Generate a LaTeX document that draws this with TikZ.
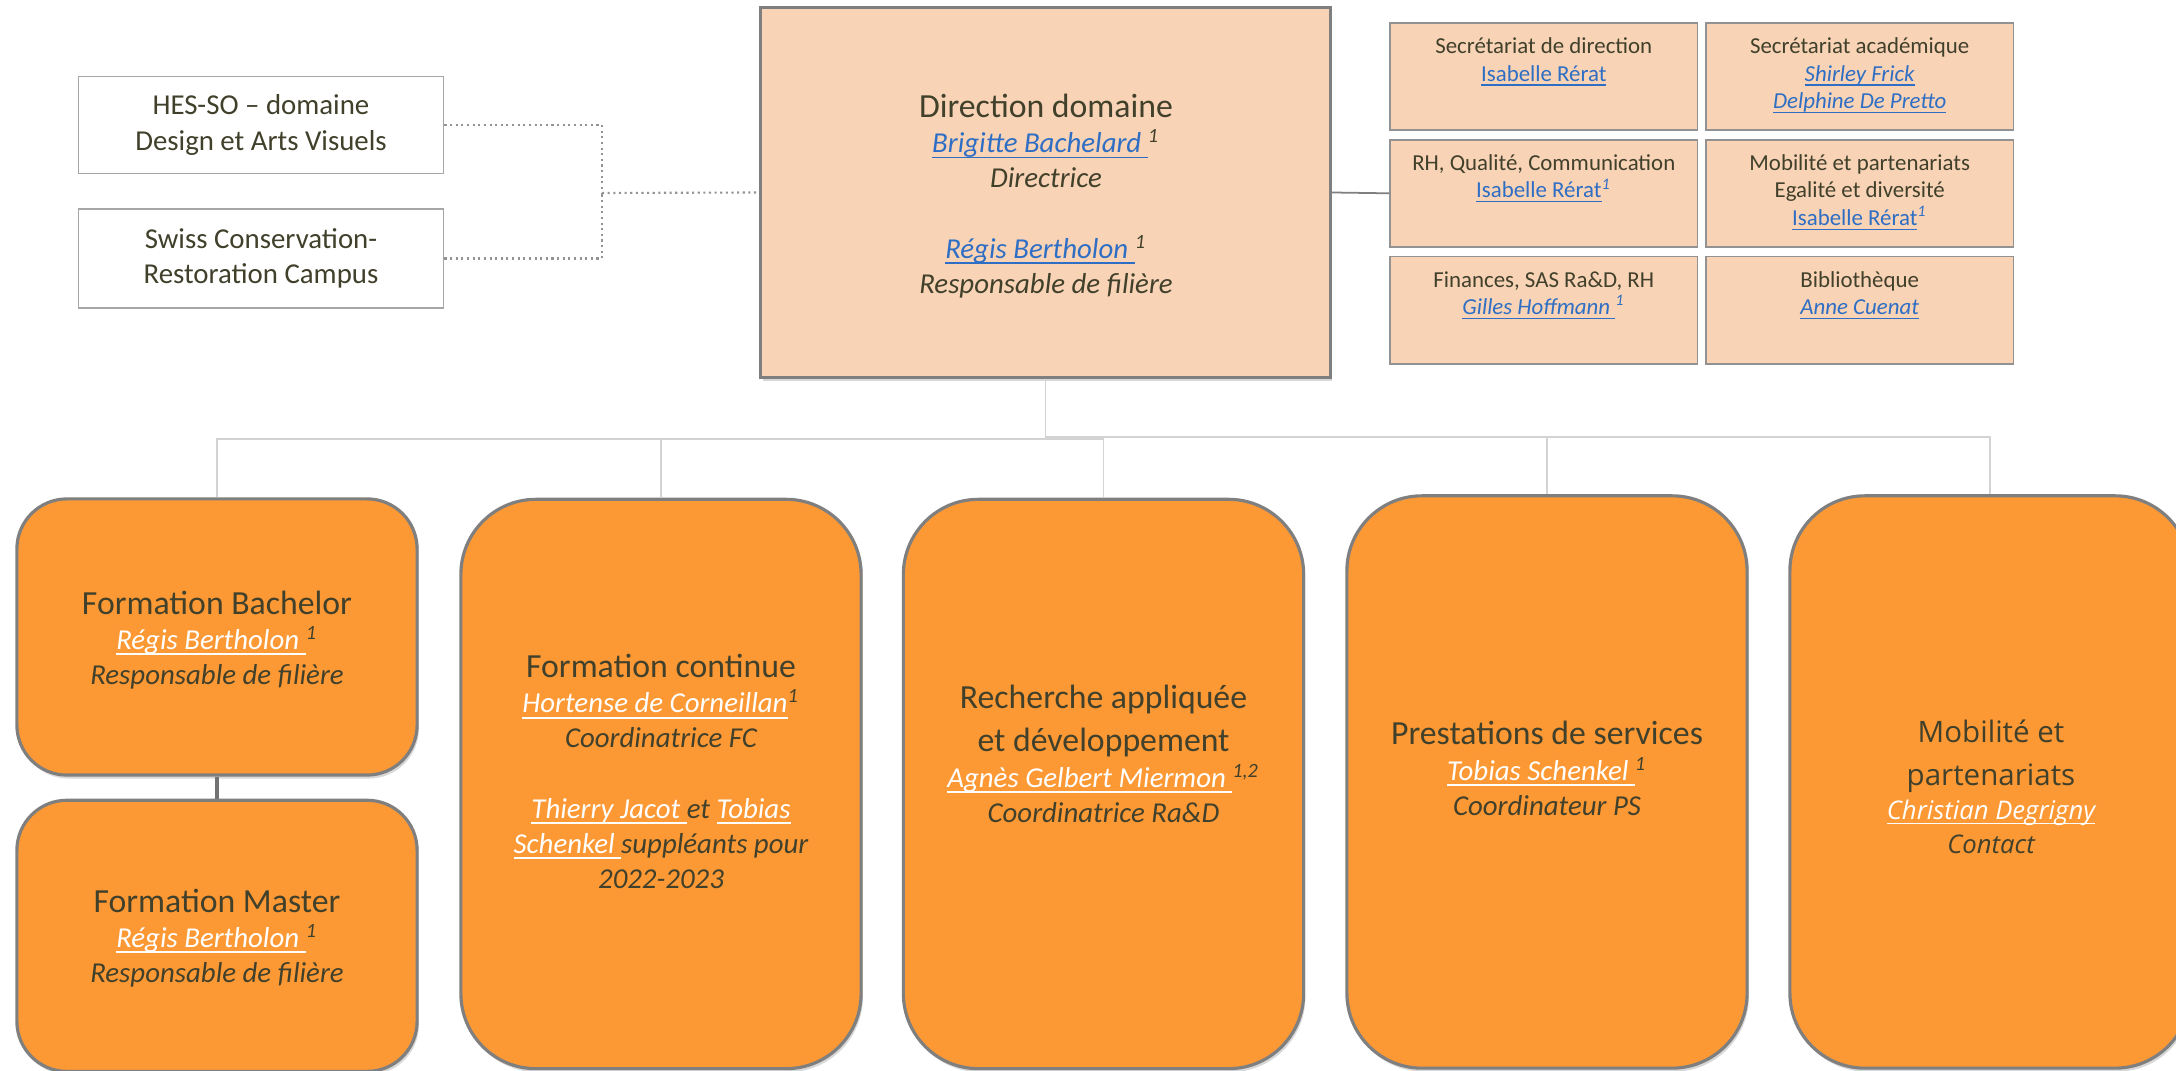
\documentclass[tikz,border=0pt]{standalone}
\usepackage{fontspec}
\setmainfont{Carlito}
\newfontfamily\mobfont{Open Sans}
\usetikzlibrary{positioning, shadows}
\definecolor{PeachFill}{HTML}{F8D3B6}
\definecolor{OrangeFill}{HTML}{FD9935}
\definecolor{BoxLine}{HTML}{7F7F7F}
\definecolor{SideLine}{HTML}{A6A6A6}
\definecolor{InkDark}{HTML}{41402B}
\definecolor{LinkBlue}{HTML}{2E6EC4}
\definecolor{WireGrey}{HTML}{D3D3D3}

% underlined link-like name, rule keeps the text colour
\newcommand{\undl}[1]{\setbox0\hbox{#1}\rlap{\rule[-0.2em]{\wd0}{0.06em}}\box0}
\newcommand{\who}[2][LinkBlue]{\textcolor{#1}{\undl{#2}}}
\newcommand{\unittitle}{\fontsize{9.6}{10}\selectfont\upshape}

\begin{document}
\begin{tikzpicture}[
    x=0.01cm, y=-0.01cm,
    sidebox/.style={draw=SideLine, fill=white, line width=0.5pt, minimum width=3.65cm,
                    minimum height=0.97cm, align=center, text=InkDark,
                    font=\fontsize{8.2}{10}\selectfont},
    dirbox/.style={draw=BoxLine, fill=PeachFill, line width=0.9pt, minimum width=5.69cm,
                   minimum height=3.69cm,
                   drop shadow={shadow xshift=0.5pt, shadow yshift=-1pt, opacity=0.3}},
    cell/.style={draw=BoxLine!85, fill=PeachFill, line width=0.5pt, minimum width=3.075cm,
                 minimum height=1.07cm, inner sep=0pt},
    unitbox/.style={draw=BoxLine, fill=OrangeFill, line width=0.9pt, minimum width=4cm,
                    rounded corners=0.75cm,
                    drop shadow={shadow xshift=0.5pt, shadow yshift=-1pt, opacity=0.3}},
    bodytxt/.style={align=center, inner sep=0pt, text=InkDark,
                    font=\fontsize{8.2}{10}\selectfont\itshape},
    celltxt/.style={align=center, inner sep=0pt, text=InkDark,
                    font=\fontsize{6.5}{7.8}\selectfont},
    wire/.style={draw=WireGrey, line width=0.5pt},
    dotwire/.style={draw=gray!85, densely dotted, line width=0.6pt}
]
    \path[use as bounding box, fill=white] (0,0) rectangle (2176,1071);

    % Outside partners
    \node[sidebox] (hes) at (261,125) {HES-SO -- domaine\\Design et Arts Visuels};
    \node[sidebox, minimum height=0.99cm] (swiss) at (261,258.5) {Swiss Conservation-\\Restoration Campus};

    % Direction
    \node[dirbox] (dir) at (1045.5,192.5) {};
    \node[bodytxt] (dirT) at (1046,196) {{\unittitle Direction domaine}\\
        \who{Brigitte Bachelard\ }\textsuperscript{1}\\
        Directrice\\[10pt]
        \who{Régis Bertholon\ }\textsuperscript{1}\\
        Responsable de filière};

    % Staff grid
    \node[cell] (cellSD) at (1543.75,76.5) {};
    \node[cell, right=0.065cm of cellSD] (cellSA) {};
    \node[cell, below=0.08cm of cellSD] (cellRH) {};
    \node[cell, right=0.065cm of cellRH] (cellMP) {};
    \node[cell, below=0.08cm of cellRH] (cellFin) {};
    \node[cell, right=0.065cm of cellFin] (cellBib) {};

    \node[celltxt, below=0.15cm of cellSD.north] (sdT) {Secrétariat de direction\\
        \who{Isabelle Rérat}};
    \node[celltxt, below=0.15cm of cellSA.north] (saT) {Secrétariat académique\\
        \who{\textit{Shirley Frick}}\\ \who{\textit{Delphine De Pretto}}};
    \node[celltxt, below=0.15cm of cellRH.north] (rhT) {RH, Qualité, Communication\\
        \who{Isabelle Rérat}\textcolor{LinkBlue}{\textsuperscript{\itshape 1}}};
    \node[celltxt, below=0.15cm of cellMP.north] (mpT) {Mobilité et partenariats\\
        Egalité et diversité\\
        \who{Isabelle Rérat}\textcolor{LinkBlue}{\textsuperscript{\itshape 1}}};
    \node[celltxt, below=0.15cm of cellFin.north] (finT) {Finances, SAS Ra\&D, RH\\
        \who{\textit{Gilles Hoffmann\ }}\textcolor{LinkBlue}{\textsuperscript{\itshape 1}}};
    \node[celltxt, below=0.15cm of cellBib.north] (bibT) {Bibliothèque\\
        \who{\textit{Anne Cuenat}}};

    % Units
    \node[unitbox, minimum height=2.76cm, rounded corners=0.5cm] (bach) at (217,637) {};
    \node[unitbox, minimum height=2.71cm, rounded corners=0.5cm, below=0.22cm of bach] (mast) {};
    \node[unitbox, minimum height=5.69cm] (cont) at (661,784) {};
    \node[unitbox, minimum height=5.69cm] (rech) at (1103.5,784) {};
    \node[unitbox, minimum height=5.72cm] (prest) at (1547,782) {};
    \node[unitbox, minimum height=5.72cm] (mob) at (1990,782) {};

    \node[bodytxt] (bachT) at (217,640) {{\unittitle Formation Bachelor}\\
        \who[white]{Régis Bertholon\ }\textsuperscript{1}\\
        Responsable de filière};
    \node[bodytxt] (mastT) at (217,938) {{\unittitle Formation Master}\\
        \who[white]{Régis Bertholon\ }\textsuperscript{1}\\
        Responsable de filière};
    \node[bodytxt] (contT) at (661,771.5) {{\unittitle Formation continue}\\
        \who[white]{Hortense de Corneillan}\textsuperscript{1}\\
        Coordinatrice FC\\[10pt]
        \who[white]{Thierry Jacot\ }et \who[white]{Tobias}\\
        \who[white]{Schenkel\ }suppléants pour\\
        2022-2023};
    \node[bodytxt] (rechT) at (1103.5,754) {{\unittitle Recherche appliquée}\\[2.2pt]
        {\unittitle et développement}\\
        \who[white]{Agnès Gelbert Miermon\ }\textsuperscript{1,2}\\
        Coordinatrice Ra\&D};
    \node[bodytxt] (prestT) at (1547,768.5) {{\unittitle Prestations de services}\\
        \who[white]{Tobias Schenkel\ }\textsuperscript{1}\\
        Coordinateur PS};
    \node[bodytxt, font=\mobfont\fontsize{7.3}{9.7}\selectfont\itshape] (mobT) at (1991,786.5)
        {{\fontsize{8.4}{9.7}\selectfont\upshape Mobilité et}\\[2.5pt]
        {\fontsize{8.4}{9.7}\selectfont\upshape partenariats}\\
        \who[white]{Christian Degrigny}\\
        Contact};

    % Connectors
    \coordinate (jn) at (602,193);
    \draw[dotwire] (hes.east) -| (jn);
    \draw[dotwire] (swiss.east) -| (jn);
    \draw[dotwire] (jn) -- (dir.west);
    \draw[BoxLine, line width=0.5pt] (dir.east) -- (cellRH.west);
    \foreach \u in {bach, cont, rech}
        \draw[wire] (dir.south) -- ++(0,60) -| (\u.north);
    \foreach \u in {prest, mob}
        \draw[wire] (dir.south) -- ++(0,58) -| (\u.north);
    \draw[BoxLine!90!black, line width=1.1pt] (bach.south) -- (mast.north);
\end{tikzpicture}
\end{document}
